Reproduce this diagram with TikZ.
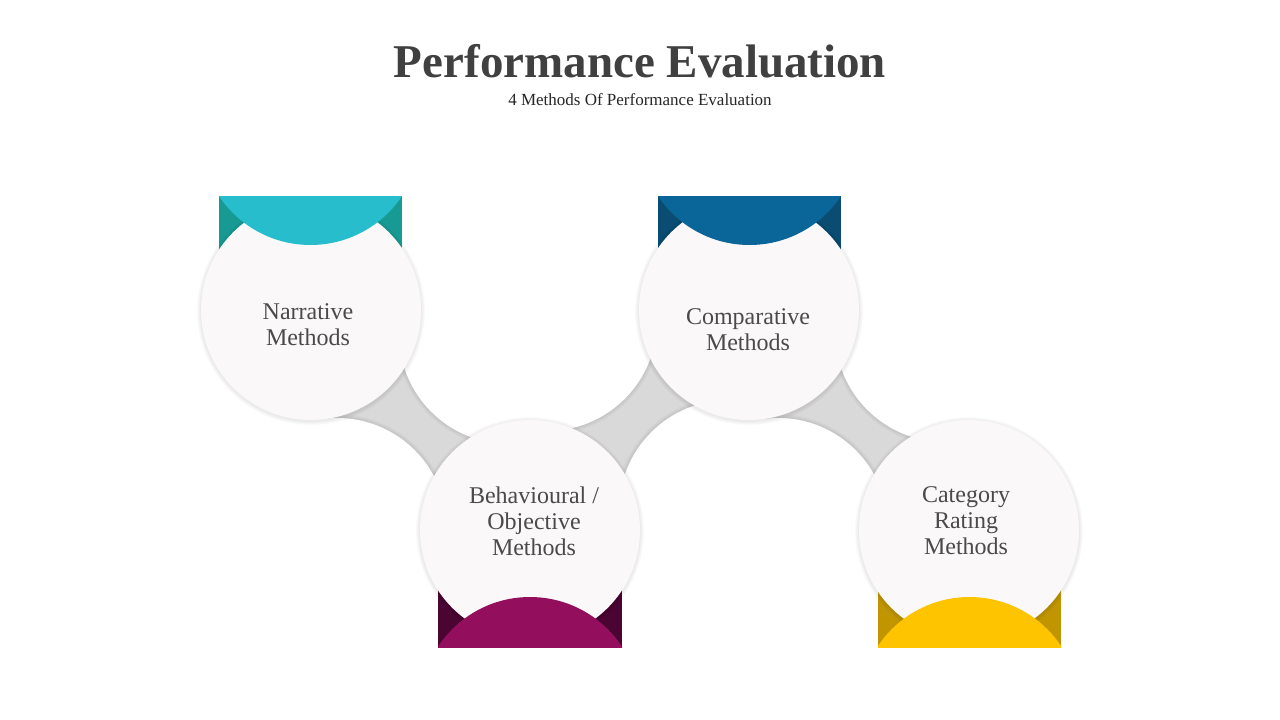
\documentclass[tikz,border=0pt]{standalone}
\usepackage{fontspec}
\setmainfont{Liberation Serif}
\definecolor{titlegray}{HTML}{404040}
\definecolor{textgray}{HTML}{4A4A4A}
\definecolor{circfill}{HTML}{FAF8F9}
\definecolor{neckgray}{HTML}{D9D9D9}
\definecolor{tealD}{HTML}{179A93}
\definecolor{tealL}{HTML}{28BDCC}
\definecolor{blueD}{HTML}{0A4C72}
\definecolor{blueL}{HTML}{0A6599}
\definecolor{magD}{HTML}{4B0532}
\definecolor{magL}{HTML}{930E5C}
\definecolor{yelD}{HTML}{C09500}
\definecolor{yelL}{HTML}{FFC400}
\newcommand\circshadow[1]{\foreach \k in {4,3,2,1}{\fill[black,opacity=0.018] ([yshift=-1pt]#1) circle[radius=110pt+\k pt];}}
\newcommand\neckshape[4]{%
  \begin{scope}
    \clip (#1) -- (#2) -- (#3) -- (#4) -- cycle;
    \fill[neckgray] (#1) -- (#2) -- (#3) -- (#4) -- cycle;
    \foreach \k in {4,3,2,1}{\fill[black,opacity=0.02] (#2) circle[radius=110pt+\k pt];
      \fill[black,opacity=0.02] (#4) circle[radius=110pt+\k pt];}
  \end{scope}
  \fill[white] (#2) circle[radius=110pt];
  \fill[white] (#4) circle[radius=110pt];}
\tikzset{
  maincirc/.style={circle, minimum size=220pt, inner sep=0pt, fill=circfill},
  label/.style={align=center, text=textgray, font=\fontsize{24}{26}\selectfont},
}
\begin{document}
\begin{tikzpicture}[x=1pt,y=-1pt]
\useasboundingbox[fill=white] (0,0) rectangle (1280,720);
% centres
\coordinate (c1) at (311,310);
\coordinate (c2) at (530,530);
\coordinate (c3) at (749,310);
\coordinate (c4) at (969,530);
% hidden cut-out circles of the gray links
\coordinate (u1) at (509,334);
\coordinate (l1) at (337,528);
\coordinate (u2) at (547,321);
\coordinate (l2) at (729,510);
\coordinate (u3) at (945,332);
\coordinate (l3) at (778,528);
% gray links
\neckshape{c1}{u1}{c2}{l1}
\neckshape{c2}{l2}{c3}{u2}
\neckshape{c3}{u3}{c4}{l3}
% dark tab backgrounds
\fill[tealD] (219,196) rectangle (402,262);
\fill[blueD] (658,196) rectangle (841,262);
\fill[magD] (438,578) rectangle (622,647);
\fill[yelD] (878,578) rectangle (1061,647);
% circles
\circshadow{c1}\circshadow{c2}\circshadow{c3}\circshadow{c4}
\node[maincirc] (n1) at (c1) {};
\node[maincirc] (n2) at (c2) {};
\node[maincirc] (n3) at (c3) {};
\node[maincirc] (n4) at (c4) {};
% coloured caps
\begin{scope}\clip (219,196) rectangle (402,262); \fill[tealL] (310.5,135) circle[radius=110pt]; \end{scope}
\begin{scope}\clip (658,196) rectangle (841,262); \fill[blueL] (749.5,135) circle[radius=110pt]; \end{scope}
\begin{scope}\clip (438,578) rectangle (622,647); \fill[magL] (530,707) circle[radius=110pt]; \end{scope}
\begin{scope}\clip (878,578) rectangle (1061,647); \fill[yelL] (969.5,707) circle[radius=110pt]; \end{scope}
% texts
\node[anchor=base, text=titlegray, font=\fontsize{47}{50}\selectfont\bfseries] (title) at (640,77) {Performance Evaluation};
\node[anchor=base, text=black!85, font=\fontsize{17}{20}\selectfont] (sub) at (640,105) {4 Methods Of Performance Evaluation};
\node[label] (t1) at (308,325) {Narrative\\Methods};
\node[label] (t2) at (534,521) {Behavioural /\\Objective\\Methods};
\node[label] (t3) at (748,330) {Comparative\\Methods};
\node[label] (t4) at (966,521) {Category\\Rating\\Methods};
\end{tikzpicture}
\end{document}
